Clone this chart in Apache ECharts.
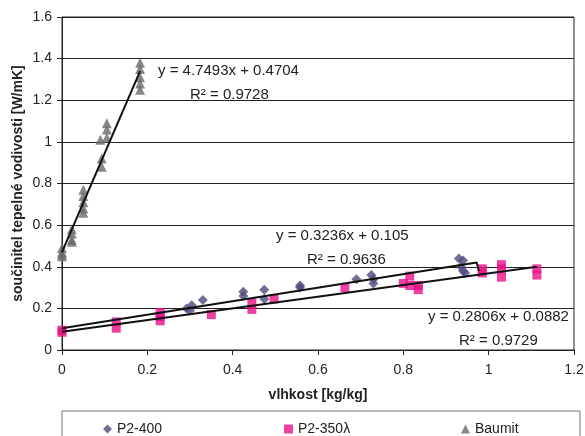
<!DOCTYPE html>
<html>
<head>
<meta charset="utf-8">
<script src="https://cdn.jsdelivr.net/npm/echarts@6/dist/echarts.min.js"></script>
<style>
  html, body { margin: 0; padding: 0; background: #fff; }
  #chart { width: 585px; height: 436px; }
</style>
</head>
<body>
<div id="chart"></div>
<script>
// measured points [vlhkost, lambda]
const p2400 = [
    [0.292, 0.20], [0.30, 0.19], [0.304, 0.215], [0.33, 0.24],
    [0.425, 0.28], [0.425, 0.26], [0.474, 0.29], [0.474, 0.245],
    [0.558, 0.31], [0.558, 0.30], [0.69, 0.34], [0.725, 0.36],
    [0.73, 0.34], [0.73, 0.32], [0.93, 0.44], [0.94, 0.43],
    [0.935, 0.40], [0.94, 0.38], [0.945, 0.37]
];
const p2350 = [
    [0, 0.095], [0, 0.085], [0.127, 0.135], [0.127, 0.105],
    [0.23, 0.18], [0.23, 0.16], [0.23, 0.14], [0.35, 0.17],
    [0.445, 0.225], [0.445, 0.195], [0.497, 0.245], [0.663, 0.30],
    [0.80, 0.32], [0.815, 0.355], [0.815, 0.31], [0.835, 0.31],
    [0.835, 0.29], [0.985, 0.39], [0.985, 0.37], [1.03, 0.41],
    [1.03, 0.39], [1.03, 0.35], [1.113, 0.39], [1.113, 0.36]
];
const baumit = [
    [0, 0.49], [0, 0.47], [0, 0.46], [0, 0.45],
    [0.023, 0.58], [0.023, 0.56], [0.023, 0.53], [0.023, 0.52],
    [0.05, 0.77], [0.05, 0.74], [0.05, 0.71], [0.05, 0.68], [0.05, 0.66],
    [0.093, 0.92], [0.093, 0.88], [0.09, 1.01], [0.105, 1.09],
    [0.105, 1.06], [0.105, 1.02],
    [0.183, 1.38], [0.183, 1.35], [0.183, 1.31], [0.183, 1.28], [0.183, 1.25]
];

// trendline ends
const fitP2400 = [[0, 0.105], [0.972, 0.42], [0.977, 0.38]];
const fitP2350 = [[0, 0.088], [1.113, 0.40]];
const fitBaumit = [[0, 0.47], [0.183, 1.34]];

const xTicks = [0, 1.2, 0.2];
const yTicks = [0, 1.6, 0.2];

const equations = [
    { text: "y = 4.7493x + 0.4704", x: 158, y: 63 },
    { text: "R² = 0.9728", x: 190, y: 87 },
    { text: "y = 0.3236x + 0.105", x: 276, y: 228 },
    { text: "R² = 0.9636", x: 307, y: 252 },
    { text: "y = 0.2806x + 0.0882", x: 428, y: 309 },
    { text: "R² = 0.9729", x: 459, y: 333 }
];

const FONT = "Liberation Sans, Arial, sans-serif";
const chart = echarts.init(document.getElementById("chart"));

const legendBox = (name, left) => ({
    data: [name],
    left: left,
    top: 422,
    padding: 0,
    itemWidth: 9,
    itemHeight: 9,
    itemGap: 4,
    textStyle: { fontFamily: FONT, fontSize: 14, color: "#222" }
});

const fitLine = (data) => ({
    type: "line",
    data: data,
    symbol: "none",
    silent: true,
    lineStyle: { color: "#111", width: 2 },
    z: 5
});

chart.setOption({
    animation: false,
    grid: {
        left: 62, right: 11, top: 17, bottom: 86,
        outerBoundsMode: "none",
        show: true, borderColor: "#222", borderWidth: 1
    },
    xAxis: {
        type: "value",
        min: xTicks[0], max: xTicks[1], interval: xTicks[2],
        name: "vlhkost [kg/kg]",
        nameLocation: "middle",
        nameGap: 38,
        nameTextStyle: { fontFamily: FONT, fontSize: 14, fontWeight: "bold", color: "#222" },
        axisLine: { lineStyle: { color: "#222" } },
        axisTick: { show: true, length: 5, lineStyle: { color: "#222" } },
        axisLabel: { fontFamily: FONT, fontSize: 14, color: "#222", margin: 13 },
        splitLine: { show: false }
    },
    yAxis: {
        type: "value",
        min: yTicks[0], max: yTicks[1], interval: yTicks[2],
        name: "součinitel tepelné vodivosti [W/mK]",
        nameLocation: "middle",
        nameGap: 37,
        nameMoveOverlap: false,
        nameTextStyle: { fontFamily: FONT, fontSize: 14, fontWeight: "bold", color: "#222" },
        axisLine: { show: true, lineStyle: { color: "#222" } },
        axisTick: { show: true, length: 5, lineStyle: { color: "#222" } },
        axisLabel: { fontFamily: FONT, fontSize: 14, color: "#222", margin: 10 },
        splitLine: { show: true, lineStyle: { color: "#222", width: 1 } }
    },
    legend: [
        legendBox("P2-400", 103),
        legendBox("P2-350λ", 284),
        legendBox("Baumit", 461)
    ],
    graphic: [
        {
            type: "rect",
            shape: { x: 62, y: 411, width: 518, height: 40 },
            style: { fill: "none", stroke: "#777", lineWidth: 1 }
        },
        ...equations.map((e) => ({
            type: "text",
            left: e.x,
            top: e.y,
            z: 10,
            style: { text: e.text, fontFamily: FONT, fontSize: 15, fill: "#222" }
        }))
    ],
    series: [
        {
            name: "P2-400",
            type: "scatter",
            data: p2400,
            symbol: "diamond",
            symbolSize: 10,
            itemStyle: { color: "#4c4b7c" }
        },
        {
            name: "P2-350λ",
            type: "scatter",
            data: p2350,
            symbol: "rect",
            symbolSize: 9,
            itemStyle: { color: "#e8108a" }
        },
        {
            name: "Baumit",
            type: "scatter",
            data: baumit,
            symbol: "triangle",
            symbolSize: 10,
            itemStyle: { color: "#6a6a6a" }
        },
        fitLine(fitP2400),
        fitLine(fitP2350),
        fitLine(fitBaumit)
    ]
});
</script>
</body>
</html>
